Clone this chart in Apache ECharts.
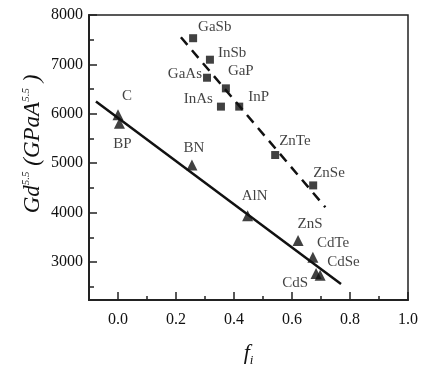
<!DOCTYPE html>
<html>
<head>
<meta charset="utf-8">
<script src="https://cdn.jsdelivr.net/npm/echarts@6/dist/echarts.min.js"></script>
<style>
  html, body { margin: 0; padding: 0; background: #fff; }
  #chart { width: 421px; height: 374px; }
</style>
</head>
<body>
<div id="chart"></div>
<script>
// square series (dashed fit)
const sqNames = ["GaSb", "InSb", "GaAs", "GaP", "InAs", "InP", "ZnTe", "ZnSe"];
const sqFi    = [0.259, 0.317, 0.307, 0.372, 0.355, 0.418, 0.542, 0.673];
const sqGd    = [7530, 7095, 6730, 6515, 6145, 6145, 5165, 4550];

// triangle series (solid fit)
const triNames = ["C", "BP", "BN", "AlN", "ZnS", "CdTe", "CdSe", "CdS"];
const triFi    = [0.000, 0.005, 0.255, 0.447, 0.621, 0.672, 0.697, 0.683];
const triGd    = [5980, 5810, 4965, 3935, 3435, 3095, 2730, 2765];

// fit lines, end points
const solidFit  = [[-0.076, 6247], [0.769, 2555]];
const dashedFit = [[0.217, 7549], [0.715, 4108]];

const xMajor = [0.0, 0.2, 0.4, 0.6, 0.8, 1.0];
const xMinor = [0.1, 0.3, 0.5, 0.7, 0.9];
const yMajor = [3000, 4000, 5000, 6000, 7000, 8000];
const yMinor = [2500, 3500, 4500, 5500, 6500, 7500];

const yTitle = "{it|Gd}{sup|5.5}{it| (GPaA}{sup|5.5}{it| )}";

// label placement (offset from point, px)
const LBL = {
  GaSb: [5, -11, "left"],  InSb: [8, -7, "left"],   GaAs: [-5, -4, "right"],
  GaP:  [2, -17, "left"],  InAs: [-8, -8, "right"], InP:  [9, -10, "left"],
  ZnTe: [4, -14, "left"],  ZnSe: [0, -12, "left"],
  C:    [9, -19, "center"], BP: [3, 21, "center"],  BN:  [2, -17, "center"],
  AlN:  [7, -20, "center"], ZnS: [12, -16, "center"], CdTe: [4, -14, "left"],
  CdSe: [7, -13, "left"],  CdS: [-8, 9, "right"]
};

const INK = "#111";
const FONT = "'Liberation Serif', 'DejaVu Serif', serif";

function pts(names, xs, ys) {
  return names.map((n, i) => {
    const l = LBL[n];
    return {
      name: n,
      value: [xs[i], ys[i]],
      label: { offset: [l[0], l[1]], align: l[2] }
    };
  });
}

const chart = echarts.init(document.getElementById("chart"), null, { renderer: "canvas" });

const axisTxt = { color: INK, fontFamily: FONT, fontSize: 16 };

chart.setOption({
  animation: false,
  grid: {
    left: 89, right: 13, top: 15, bottom: 74,
    show: true, borderColor: "#222", borderWidth: 1.5, backgroundColor: "transparent"
  },
  // y title, rotated (axis name placement would not move)
  graphic: [
    {
      type: "text",
      x: 33, y: 144,
      rotation: Math.PI / 2,
      style: {
        text: yTitle,
        align: "center",
        verticalAlign: "middle",
        fill: INK,
        rich: {
          it: { fontFamily: FONT, fontStyle: "italic", fontSize: 23, fill: INK },
          sup: { fontFamily: FONT, fontStyle: "italic", fontSize: 11, fill: INK, verticalAlign: "top", padding: [0, 0, 14, 0] }
        }
      }
    }
  ],
  xAxis: [
    {
      type: "value", min: -0.1, max: 1.0, position: "bottom",
      axisLine: { show: true, onZero: false, lineStyle: { color: "#222", width: 2 } },
      axisTick: { show: true, inside: true, length: 8, customValues: xMajor, lineStyle: { color: "#222", width: 1.5 } },
      axisLabel: { show: true, customValues: xMajor, margin: 12, formatter: v => v.toFixed(1), ...axisTxt },
      splitLine: { show: false },
      name: "{it|f}{sub|i}",
      nameLocation: "middle",
      nameGap: 40,
      nameTextStyle: {
        rich: {
          it: { fontFamily: FONT, fontStyle: "italic", fontSize: 22, color: INK },
          sub: { fontFamily: FONT, fontStyle: "italic", fontSize: 13, color: INK, verticalAlign: "bottom", padding: [14, 0, 0, 0] }
        }
      }
    },
    {
      type: "value", min: -0.1, max: 1.0, position: "bottom",
      axisLine: { show: false, onZero: false },
      axisTick: { show: true, inside: true, length: 4, customValues: xMinor, lineStyle: { color: "#222", width: 1.5 } },
      axisLabel: { show: false },
      splitLine: { show: false }
    }
  ],
  yAxis: [
    {
      type: "value", min: 2230, max: 8000, position: "left",
      axisLine: { show: true, onZero: false, lineStyle: { color: "#222", width: 2 } },
      axisTick: { show: true, inside: true, length: 8, customValues: yMajor, lineStyle: { color: "#222", width: 1.5 } },
      axisLabel: { show: true, customValues: yMajor, margin: 6, formatter: v => String(v), ...axisTxt },
      splitLine: { show: false }
    },
    {
      type: "value", min: 2230, max: 8000, position: "left",
      axisLine: { show: false, onZero: false },
      axisTick: { show: true, inside: true, length: 5, customValues: yMinor, lineStyle: { color: "#222", width: 1.5 } },
      axisLabel: { show: false },
      splitLine: { show: false }
    }
  ],
  series: [
    {
      name: "solid fit", type: "line", data: solidFit, symbol: "none",
      lineStyle: { color: INK, width: 2.5 }, z: 2
    },
    {
      name: "dashed fit", type: "line", data: dashedFit, symbol: "none",
      lineStyle: { color: INK, width: 2.5, type: [10, 7] }, z: 2
    },
    {
      name: "squares", type: "scatter", data: pts(sqNames, sqFi, sqGd),
      symbol: "rect", symbolSize: 8, itemStyle: { color: INK }, z: 3,
      label: {
        show: true, position: "inside", formatter: "{b}",
        color: INK, fontFamily: FONT, fontSize: 15, verticalAlign: "middle"
      }
    },
    {
      name: "triangles", type: "scatter", data: pts(triNames, triFi, triGd),
      symbol: "triangle", symbolSize: 11, itemStyle: { color: INK }, z: 3,
      label: {
        show: true, position: "inside", formatter: "{b}",
        color: INK, fontFamily: FONT, fontSize: 15, verticalAlign: "middle"
      }
    }
  ]
});
</script>
</body>
</html>
